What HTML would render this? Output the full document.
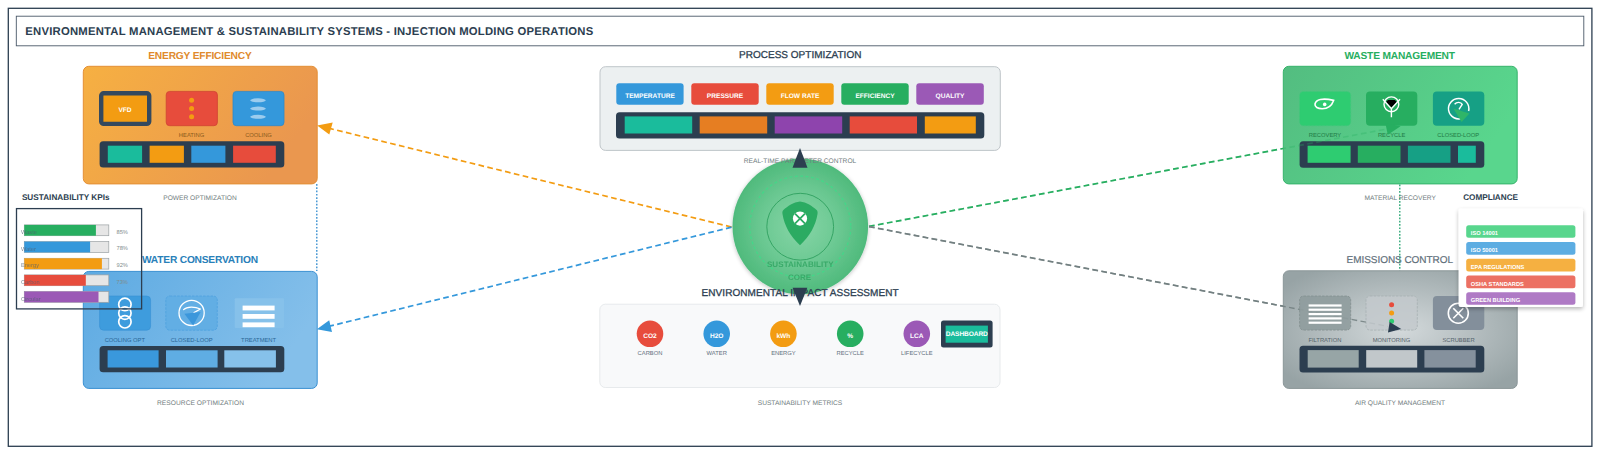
<!DOCTYPE html>
<html lang="en">
<head>
<meta charset="utf-8">
<title>Environmental Management &amp; Sustainability Systems</title>
<style>
html,body{margin:0;padding:0;background:#fff;}
body{width:1600px;height:455px;overflow:hidden;font-family:"Liberation Sans",Arial,sans-serif;}
svg{display:block;}
text{font-family:"Liberation Sans",Arial,sans-serif;text-rendering:geometricPrecision;}
.b{font-weight:bold;}
.sub{font-size:6.65px;fill:#717d7e;text-anchor:middle;}
.lbl{font-size:5.8px;text-anchor:middle;}
.tag{font-size:6.6px;font-weight:bold;fill:#fff;text-anchor:middle;}
.cmp{font-size:5.7px;font-weight:bold;fill:#fff;}
.pct{font-size:5.7px;fill:#7f8c8d;}
.kl{font-size:5.7px;fill:#4d5d6e;}
</style>
</head>
<body>
<svg width="1600" height="455" viewBox="0 0 1600 455">
<defs>
<linearGradient id="gEnergy" x1="0" y1="0" x2="1" y2="0.35"><stop offset="0" stop-color="#f6b042"/><stop offset="1" stop-color="#ea974f"/></linearGradient>
<linearGradient id="gWater" x1="0" y1="0" x2="1" y2="0.35"><stop offset="0" stop-color="#5daae2"/><stop offset="1" stop-color="#84bfea"/></linearGradient>
<linearGradient id="gWaste" x1="0" y1="0" x2="1" y2="0.35"><stop offset="0" stop-color="#53bd80"/><stop offset="1" stop-color="#59d68d"/></linearGradient>
<radialGradient id="gEmis" cx="0.5" cy="0.5" r="0.62"><stop offset="0" stop-color="#d3d9db"/><stop offset="1" stop-color="#97a3a5"/></radialGradient>
<radialGradient id="gCore" cx="0.5" cy="0.5" r="0.5"><stop offset="0" stop-color="#86d5a6"/><stop offset="0.55" stop-color="#6cc993"/><stop offset="1" stop-color="#4fba7c"/></radialGradient>
<filter id="shadow" x="-20%" y="-20%" width="140%" height="140%"><feGaussianBlur in="SourceAlpha" stdDeviation="2.2"/><feOffset dx="0" dy="1.5"/><feComponentTransfer><feFuncA type="linear" slope="0.28"/></feComponentTransfer><feMerge><feMergeNode/><feMergeNode in="SourceGraphic"/></feMerge></filter>
<filter id="glow" x="-20%" y="-20%" width="140%" height="140%"><feGaussianBlur in="SourceAlpha" stdDeviation="2"/><feOffset dx="0" dy="1"/><feComponentTransfer><feFuncA type="linear" slope="0.25"/></feComponentTransfer><feMerge><feMergeNode/><feMergeNode in="SourceGraphic"/></feMerge></filter>
</defs>

<rect x="0" y="0" width="1600" height="455" fill="#ffffff"/>
<!-- frame -->
<rect x="8.3" y="8.3" width="1583.6" height="438" fill="none" stroke="#2c3e50" stroke-width="1.3"/>
<rect x="16.3" y="16.2" width="1567.5" height="29.6" fill="#ffffff" stroke="#4a5868" stroke-width="0.9"/>
<text x="25.3" y="35" class="b" font-size="11.3" fill="#2c3e50" textLength="568" lengthAdjust="spacing">ENVIRONMENTAL MANAGEMENT &amp; SUSTAINABILITY SYSTEMS - INJECTION MOLDING OPERATIONS</text>

<!-- connector lines -->
<g fill="none" stroke-width="1.7" stroke-dasharray="5.7 3.4">
<line x1="731.5" y1="227" x2="329.5" y2="128.4" stroke="#f39c12"/>
<line x1="731.5" y1="227.2" x2="329.5" y2="326.2" stroke="#3498db"/>
</g>
<polygon points="317.2,125.4 332.7,122.6 329.3,134.5" fill="#f39c12"/>
<polygon points="316.9,329.2 329.2,320.2 332,331.9" fill="#3498db"/>
<line x1="316.8" y1="184" x2="316.8" y2="271" stroke="#2f8acd" stroke-width="1.3" stroke-dasharray="1.7 1.6"/>

<!-- ENERGY -->
<text x="200" y="58.5" class="b" font-size="10.2" fill="#e08a2c" text-anchor="middle" textLength="103.5" lengthAdjust="spacing">ENERGY EFFICIENCY</text>
<rect x="83.3" y="66.3" width="233.9" height="117.6" rx="5.5" fill="url(#gEnergy)" stroke="#e48f35" stroke-width="1"/>
<rect x="101.2" y="93.3" width="48" height="30.6" rx="2.5" fill="#f39c12" stroke="#34495e" stroke-width="4.4"/>
<text x="125" y="112.3" class="tag">VFD</text>
<rect x="166.2" y="91.4" width="51.2" height="34.3" rx="3.5" fill="#e74c3c" stroke="#cf4232" stroke-width="0.8"/>
<circle cx="191.6" cy="100.3" r="2.5" fill="#f39c12"/><circle cx="191.6" cy="108.6" r="2.5" fill="#f39c12"/><circle cx="191.6" cy="116.8" r="2.5" fill="#f39c12"/>
<rect x="233" y="91.4" width="51" height="34.3" rx="3.5" fill="#3498db" stroke="#2e88c8" stroke-width="0.8"/>
<g fill="#c4e1f6" opacity="0.72">
<ellipse cx="258" cy="100.3" rx="7.8" ry="2"/><ellipse cx="258" cy="108.6" rx="7.8" ry="2"/><ellipse cx="258" cy="116.8" rx="7.8" ry="2"/>
</g>
<text x="191.5" y="137.4" class="lbl" fill="#8a5a1c">HEATING</text>
<text x="258.5" y="137.4" class="lbl" fill="#8a5a1c">COOLING</text>
<rect x="99.6" y="141.2" width="184.7" height="26.4" rx="3.5" fill="#2c3e50"/>
<rect x="107.8" y="145.7" width="34.3" height="17.1" fill="#1abc9c"/>
<rect x="149.6" y="145.7" width="34.3" height="17.1" fill="#f39c12"/>
<rect x="191.3" y="145.7" width="34.1" height="17.1" fill="#3498db"/>
<rect x="233.1" y="145.7" width="42.7" height="17.1" fill="#e74c3c"/>
<text x="200" y="200.1" class="sub" textLength="73.5" lengthAdjust="spacing">POWER OPTIMIZATION</text>

<!-- WATER -->
<text x="200" y="262.8" class="b" font-size="10.2" fill="#2980b9" text-anchor="middle" textLength="116" lengthAdjust="spacing">WATER CONSERVATION</text>
<rect x="83.3" y="271.4" width="233.9" height="117" rx="5.5" fill="url(#gWater)" stroke="#3a90d2" stroke-width="1"/>
<rect x="99.6" y="296" width="51" height="34.2" rx="4" fill="#3e9cdd" stroke="#3691d3" stroke-width="0.6"/>
<g fill="none" stroke="#ffffff" stroke-width="1.7">
<circle cx="124.9" cy="304.4" r="6.2"/><circle cx="124.9" cy="313.1" r="6.2"/><circle cx="124.9" cy="321.8" r="6.2"/>
</g>
<rect x="165.8" y="296" width="51.5" height="34.2" rx="4" fill="#62aee4" stroke="#4a9fde" stroke-width="0.7" stroke-dasharray="2.5 1.2"/>
<circle cx="191.6" cy="312.9" r="12.6" fill="none" stroke="#ffffff" stroke-width="1.3"/>
<path d="M183.6 309.6 C187 306.4 194.6 306.4 200.4 309 L194 312.6" fill="none" stroke="#ffffff" stroke-width="1.3" stroke-linecap="round" stroke-linejoin="round"/>
<path d="M184.4 313.8 L200.6 312 L193.2 325.4 Z" fill="#3c97db"/>
<rect x="234.7" y="298.3" width="49.3" height="29.8" rx="1" fill="#86c1ea"/>
<rect x="242.6" y="305.6" width="32" height="4.8" fill="#ffffff"/><rect x="242.6" y="314" width="32" height="4.8" fill="#ffffff"/><rect x="242.6" y="322.4" width="32" height="4.8" fill="#ffffff"/>
<text x="124.8" y="341.8" class="lbl" fill="#2b6797">COOLING OPT</text>
<text x="191.6" y="341.8" class="lbl" fill="#2b6797">CLOSED-LOOP</text>
<text x="258.6" y="341.8" class="lbl" fill="#2b6797">TREATMENT</text>
<rect x="99.6" y="346" width="184.7" height="26.3" rx="3.5" fill="#2c3e50"/>
<rect x="107.6" y="350.3" width="51" height="17.2" fill="#3a98dc"/>
<rect x="166" y="350.3" width="51.6" height="17.2" fill="#5fade3"/>
<rect x="224.3" y="350.3" width="51.6" height="17.2" fill="#86c1ea"/>
<text x="200.5" y="405" class="sub" textLength="87" lengthAdjust="spacing">RESOURCE OPTIMIZATION</text>

<!-- KPI -->
<text x="21.9" y="200.3" class="b" font-size="8.2" fill="#2c3e50" textLength="87.7" lengthAdjust="spacing">SUSTAINABILITY KPIs</text>
<rect x="16.5" y="208.6" width="125.1" height="100.3" fill="none" stroke="#2c3e50" stroke-width="1.3"/>
<g>
<rect x="24.3" y="224.9" width="84.5" height="10.8" fill="#e6e6e6" stroke="#9aa0a3" stroke-width="0.7"/><rect x="24.3" y="224.9" width="71.6" height="10.8" fill="#27ae60"/>
<rect x="24.3" y="241.6" width="84.5" height="10.8" fill="#e6e6e6" stroke="#9aa0a3" stroke-width="0.7"/><rect x="24.3" y="241.6" width="65.8" height="10.8" fill="#3498db"/>
<rect x="24.3" y="258.3" width="84.5" height="10.8" fill="#e6e6e6" stroke="#9aa0a3" stroke-width="0.7"/><rect x="24.3" y="258.3" width="77.6" height="10.8" fill="#f39c12"/>
<rect x="24.3" y="274.9" width="84.5" height="10.8" fill="#e6e6e6" stroke="#9aa0a3" stroke-width="0.7"/><rect x="24.3" y="274.9" width="61.5" height="10.8" fill="#e74c3c"/>
<rect x="24.3" y="291.5" width="84.5" height="10.8" fill="#e6e6e6" stroke="#9aa0a3" stroke-width="0.7"/><rect x="24.3" y="291.5" width="74.2" height="10.8" fill="#9b59b6"/>
</g>
<g class="kl" opacity="0.7">
<text x="21" y="233.9">Waste</text><text x="21" y="250.6">Water</text><text x="21" y="267.3">Energy</text><text x="21" y="283.9">Carbon</text><text x="21" y="300.5">Circular</text>
</g>
<text x="116.5" y="233.7" class="pct">85%</text><text x="116.5" y="250.4" class="pct">78%</text><text x="116.5" y="267.1" class="pct">92%</text><text x="116.5" y="283.7" class="pct">73%</text>

<!-- PROCESS -->
<text x="800.2" y="58.4" font-size="10" fill="#2c3e50" stroke="#2c3e50" stroke-width="0.3" text-anchor="middle" textLength="122.5" lengthAdjust="spacing">PROCESS OPTIMIZATION</text>
<rect x="600" y="66.7" width="400.3" height="83.7" rx="5.5" fill="#ecf0f1" stroke="#bfc5c9" stroke-width="1"/>
<rect x="616.3" y="83.2" width="67.3" height="21.5" rx="3" fill="#3498db"/><text x="650" y="97.6" class="tag">TEMPERATURE</text>
<rect x="691.3" y="83.2" width="67.4" height="21.5" rx="3" fill="#e74c3c"/><text x="725" y="97.6" class="tag">PRESSURE</text>
<rect x="766.3" y="83.2" width="67.4" height="21.5" rx="3" fill="#f39c12"/><text x="800" y="97.6" class="tag">FLOW RATE</text>
<rect x="841.3" y="83.2" width="67.4" height="21.5" rx="3" fill="#27ae60"/><text x="875" y="97.6" class="tag">EFFICIENCY</text>
<rect x="916.3" y="83.2" width="67.5" height="21.5" rx="3" fill="#9b59b6"/><text x="950" y="97.6" class="tag">QUALITY</text>
<rect x="616" y="112.2" width="368.3" height="26.3" rx="3.5" fill="#2c3e50"/>
<rect x="624.7" y="116.4" width="67.5" height="17.1" fill="#1abc9c"/>
<rect x="699.7" y="116.4" width="67.5" height="17.1" fill="#e67e22"/>
<rect x="774.7" y="116.4" width="67.5" height="17.1" fill="#8e44ad"/>
<rect x="849.7" y="116.4" width="67.3" height="17.1" fill="#e74c3c"/>
<rect x="924.8" y="116.4" width="51" height="17.1" fill="#f39c12"/>

<!-- IMPACT -->
<rect x="599.8" y="304.2" width="400.2" height="83.3" rx="5.5" fill="#f8f9fa" stroke="#e4e8ea" stroke-width="0.9"/>
<g>
<circle cx="650" cy="333.8" r="13.3" fill="#e74c3c"/><circle cx="716.7" cy="333.8" r="13.3" fill="#3498db"/><circle cx="783.4" cy="333.8" r="13.3" fill="#f39c12"/><circle cx="850.2" cy="333.8" r="13.3" fill="#27ae60"/><circle cx="916.8" cy="333.8" r="13.3" fill="#9b59b6"/>
</g>
<g>
<text x="650" y="337.9" class="tag">CO2</text><text x="716.7" y="337.9" class="tag">H2O</text><text x="783.4" y="337.9" class="tag">kWh</text><text x="850.2" y="337.9" class="tag">%</text><text x="916.8" y="337.9" class="tag">LCA</text>
</g>
<g class="lbl" fill="#5f6f7c">
<text x="650" y="354.7" class="lbl">CARBON</text><text x="716.7" y="354.7" class="lbl">WATER</text><text x="783.4" y="354.7" class="lbl">ENERGY</text><text x="850.2" y="354.7" class="lbl">RECYCLE</text><text x="916.8" y="354.7" class="lbl">LIFECYCLE</text>
</g>
<rect x="941" y="320.6" width="51.6" height="26.8" rx="2.5" fill="#2c3e50"/>
<rect x="945.6" y="325.6" width="42.3" height="17.1" fill="#1abc9c"/>
<text x="966.8" y="336.4" class="tag" textLength="42" lengthAdjust="spacing">DASHBOARD</text>
<text x="800" y="404.7" class="sub" textLength="84.6" lengthAdjust="spacing">SUSTAINABILITY METRICS</text>

<!-- CORE -->
<g filter="url(#glow)"><circle cx="800.3" cy="226.4" r="67.8" fill="url(#gCore)"/></g>
<circle cx="800.3" cy="226.6" r="50.5" fill="none" stroke="#3edc88" stroke-width="1.2" stroke-dasharray="2.8 2.6" opacity="0.85"/>
<circle cx="800.2" cy="226.7" r="33.4" fill="none" stroke="#35a565" stroke-width="1"/>
<path d="M800 201.4 C793.5 202.2 787.6 206 783.4 210 C782.4 211 782.2 212.4 782.5 214 C784.2 225.4 790.4 236.6 800 245.2 C809.6 236.6 815.8 225.4 817.5 214 C817.8 212.4 817.6 211 816.6 210 C812.4 206 806.5 202.2 800 201.4 Z" fill="#2bab62"/>
<circle cx="800" cy="218.6" r="7.1" fill="#ffffff"/>
<path d="M795 213.6 L805 223.6 M805 213.6 L795 223.6" stroke="#2bab62" stroke-width="1.8" fill="none"/>
<text x="800.3" y="267" class="b" font-size="8" fill="#35a866" text-anchor="middle" textLength="66.7" lengthAdjust="spacing" opacity="0.9">SUSTAINABILITY</text>
<text x="799.5" y="280" class="b" font-size="8" fill="#35a866" text-anchor="middle" opacity="0.9">CORE</text>
<text x="800.1" y="296.2" font-size="10" fill="#2c3e50" stroke="#2c3e50" stroke-width="0.3" text-anchor="middle" textLength="197" lengthAdjust="spacing">ENVIRONMENTAL IMPACT ASSESSMENT</text>
<text x="800" y="162.5" class="sub" textLength="112.5" lengthAdjust="spacing">REAL-TIME PARAMETER CONTROL</text>
<polygon points="800,148 792.5,167.8 807.5,167.8" fill="#2c3e50"/>
<polygon points="800,306 792.6,287.8 807.3,287.8" fill="#2c3e50"/>

<!-- WASTE -->
<line x1="869" y1="226.4" x2="1283" y2="148.5" stroke="#27ae60" stroke-width="1.7" stroke-dasharray="5.7 3.4"/>
<text x="1399.7" y="58.5" class="b" font-size="10.2" fill="#27ae60" text-anchor="middle" textLength="110.6" lengthAdjust="spacing">WASTE MANAGEMENT</text>
<rect x="1283.3" y="66.3" width="233.9" height="117.6" rx="5.5" fill="url(#gWaste)" stroke="#36b36b" stroke-width="1"/>
<rect x="1299.6" y="91.5" width="51.1" height="34.3" rx="4" fill="#2ecc71" stroke="#45c57c" stroke-width="0.7" stroke-dasharray="2.5 1.2"/>
<path d="M1315 104 C1316 99.8 1322 97.6 1333.6 100.4 C1331.8 105.6 1327.4 108.6 1322.2 108.8 C1317.8 108.8 1314.6 107 1315 104 Z" fill="none" stroke="#ffffff" stroke-width="1.6"/>
<circle cx="1324.7" cy="104.4" r="1.8" fill="#ffffff"/>
<rect x="1366" y="91.5" width="51.3" height="34.3" rx="4" fill="#27ae60"/>
<polygon points="1388,99.9 1394.8,99.9 1397,102.2 1391.4,107.4 1385.8,102.2" fill="#000000"/>
<circle cx="1391.4" cy="104.3" r="7.4" fill="none" stroke="#ffffff" stroke-width="1.4"/>
<path d="M1382.8 99.2 L1391.4 108.6 L1400 99.2 M1391.4 108.4 L1391.4 117.2" fill="none" stroke="#ffffff" stroke-width="1.4"/>
<rect x="1432.9" y="91.5" width="51.4" height="34.3" rx="4" fill="#16a085"/>
<path d="M1462.8 118 A10.2 10.2 0 1 1 1468.6 111" fill="none" stroke="#ffffff" stroke-width="1.5"/>
<path d="M1454.6 104.2 C1456.8 101.6 1461 102 1462.2 104.4 L1459 109.4" fill="none" stroke="#ffffff" stroke-width="1.4"/>
<path d="M1453.4 108.6 L1469.4 113.4 L1461.6 122 Z" fill="#2fb568"/>
<text x="1325" y="137.3" class="lbl" fill="#1f7a45">RECOVERY</text>
<text x="1391.6" y="137.3" class="lbl" fill="#1f7a45">RECYCLE</text>
<text x="1458.2" y="137.3" class="lbl" fill="#1f7a45">CLOSED-LOOP</text>
<rect x="1299.6" y="141.2" width="184.7" height="26.5" rx="3.5" fill="#2c3e50"/>
<rect x="1307.6" y="145.7" width="43" height="17.1" fill="#2ecc71"/>
<rect x="1357.8" y="145.7" width="42.7" height="17.1" fill="#27ae60"/>
<rect x="1407.9" y="145.7" width="42.6" height="17.1" fill="#16a085"/>
<rect x="1458" y="145.7" width="17.8" height="17.1" fill="#1abc9c"/>
<text x="1400.2" y="200.1" class="sub" textLength="71.6" lengthAdjust="spacing">MATERIAL RECOVERY</text>
<line x1="869" y1="226.4" x2="1388" y2="128.8" stroke="#27ae60" stroke-width="1.7" stroke-dasharray="5.7 3.4" opacity="0.3"/>
<polygon points="1400.6,126.2 1385.4,123.2 1387.8,134.8" fill="#27ae60"/>

<!-- EMISSIONS -->
<line x1="869" y1="226.6" x2="1283" y2="306.2" stroke="#7f8c8d" stroke-width="1.7" stroke-dasharray="5.7 3.4"/>
<text x="1399.8" y="262.9" font-size="10" fill="#5f6f7a" stroke="#5f6f7a" stroke-width="0.2" text-anchor="middle" textLength="106.5" lengthAdjust="spacing">EMISSIONS CONTROL</text>
<line x1="1399.8" y1="184.5" x2="1399.8" y2="270.5" stroke="#22a36f" stroke-width="1.3" stroke-dasharray="1.7 1.6"/>
<rect x="1283.3" y="270.8" width="233.9" height="117.6" rx="5.5" fill="url(#gEmis)" stroke="#8a9698" stroke-width="1"/>
<line x1="869" y1="226.6" x2="1388" y2="326.4" stroke="#6f7c7d" stroke-width="1.4" stroke-dasharray="5.7 3.4" opacity="0.8"/>
<rect x="1299.6" y="296" width="51.1" height="34.1" rx="4" fill="#8f9c9d" fill-opacity="0.9" stroke="#7f8c8d" stroke-width="0.7" stroke-dasharray="2.5 1.2"/>
<g fill="#ffffff"><rect x="1308.6" y="304.4" width="33" height="2.2"/><rect x="1308.6" y="308.6" width="33" height="2.2"/><rect x="1308.6" y="313" width="33" height="2.2"/><rect x="1308.6" y="317.3" width="33" height="2.2"/><rect x="1308.6" y="321.6" width="33" height="2.2"/></g>
<rect x="1366" y="296" width="51.3" height="34.1" rx="4" fill="#c3c9cc" fill-opacity="0.85" stroke="#a3adaf" stroke-width="0.7" stroke-dasharray="2.5 1.2"/>
<circle cx="1391.6" cy="304.7" r="2.5" fill="#e74c3c"/><circle cx="1391.6" cy="312.9" r="2.5" fill="#f39c12"/><circle cx="1391.6" cy="321.2" r="2.5" fill="#2ecc71"/>
<rect x="1432.9" y="296" width="51.4" height="34.1" rx="4" fill="#838f9b"/>
<circle cx="1458.3" cy="313.2" r="10" fill="none" stroke="#ffffff" stroke-width="1.6"/>
<path d="M1453.3 308.2 L1463.3 318.2 M1463.3 308.2 L1453.3 318.2" stroke="#ffffff" stroke-width="1.6" fill="none"/>
<text x="1324.9" y="342.3" class="lbl" fill="#55626a">FILTRATION</text>
<text x="1391.5" y="342.3" class="lbl" fill="#55626a">MONITORING</text>
<text x="1458.5" y="342.3" class="lbl" fill="#55626a">SCRUBBER</text>
<rect x="1299.5" y="345.8" width="184.8" height="26.8" rx="3.5" fill="#2c3e50"/>
<rect x="1307.7" y="350.1" width="51" height="17.5" fill="#97a5a6"/>
<rect x="1366.2" y="350.1" width="51" height="17.5" fill="#c1c7ca"/>
<rect x="1424.4" y="350.1" width="51.3" height="17.5" fill="#85919d"/>
<text x="1400" y="404.9" class="sub" textLength="90.2" lengthAdjust="spacing">AIR QUALITY MANAGEMENT</text>
<polygon points="1401.2,329 1388,332.4 1389.6,322" fill="#2c3e50"/>

<!-- COMPLIANCE -->
<text x="1463.2" y="200.3" class="b" font-size="8.2" fill="#2c3e50" textLength="54.8" lengthAdjust="spacing">COMPLIANCE</text>
<g filter="url(#shadow)"><rect x="1458.6" y="208.4" width="124.4" height="98.6" rx="2" fill="#ffffff"/></g>
<rect x="1466.2" y="225.2" width="109.2" height="12.6" rx="2.5" fill="#58d68d"/>
<rect x="1466.2" y="242.1" width="109.2" height="12.6" rx="2.5" fill="#5dade2"/>
<rect x="1466.2" y="258.8" width="109.2" height="12.6" rx="2.5" fill="#f5b041"/>
<rect x="1466.2" y="275.5" width="109.2" height="12.7" rx="2.5" fill="#ec7063"/>
<rect x="1466.2" y="292.2" width="109.2" height="12.5" rx="2.5" fill="#af7ac5"/>
<text x="1470.8" y="235.4" class="cmp">ISO 14001</text>
<text x="1470.8" y="252.2" class="cmp">ISO 50001</text>
<text x="1470.8" y="269" class="cmp">EPA REGULATIONS</text>
<text x="1470.8" y="285.7" class="cmp">OSHA STANDARDS</text>
<text x="1470.8" y="302.4" class="cmp">GREEN BUILDING</text>
</svg>
</body>
</html>
